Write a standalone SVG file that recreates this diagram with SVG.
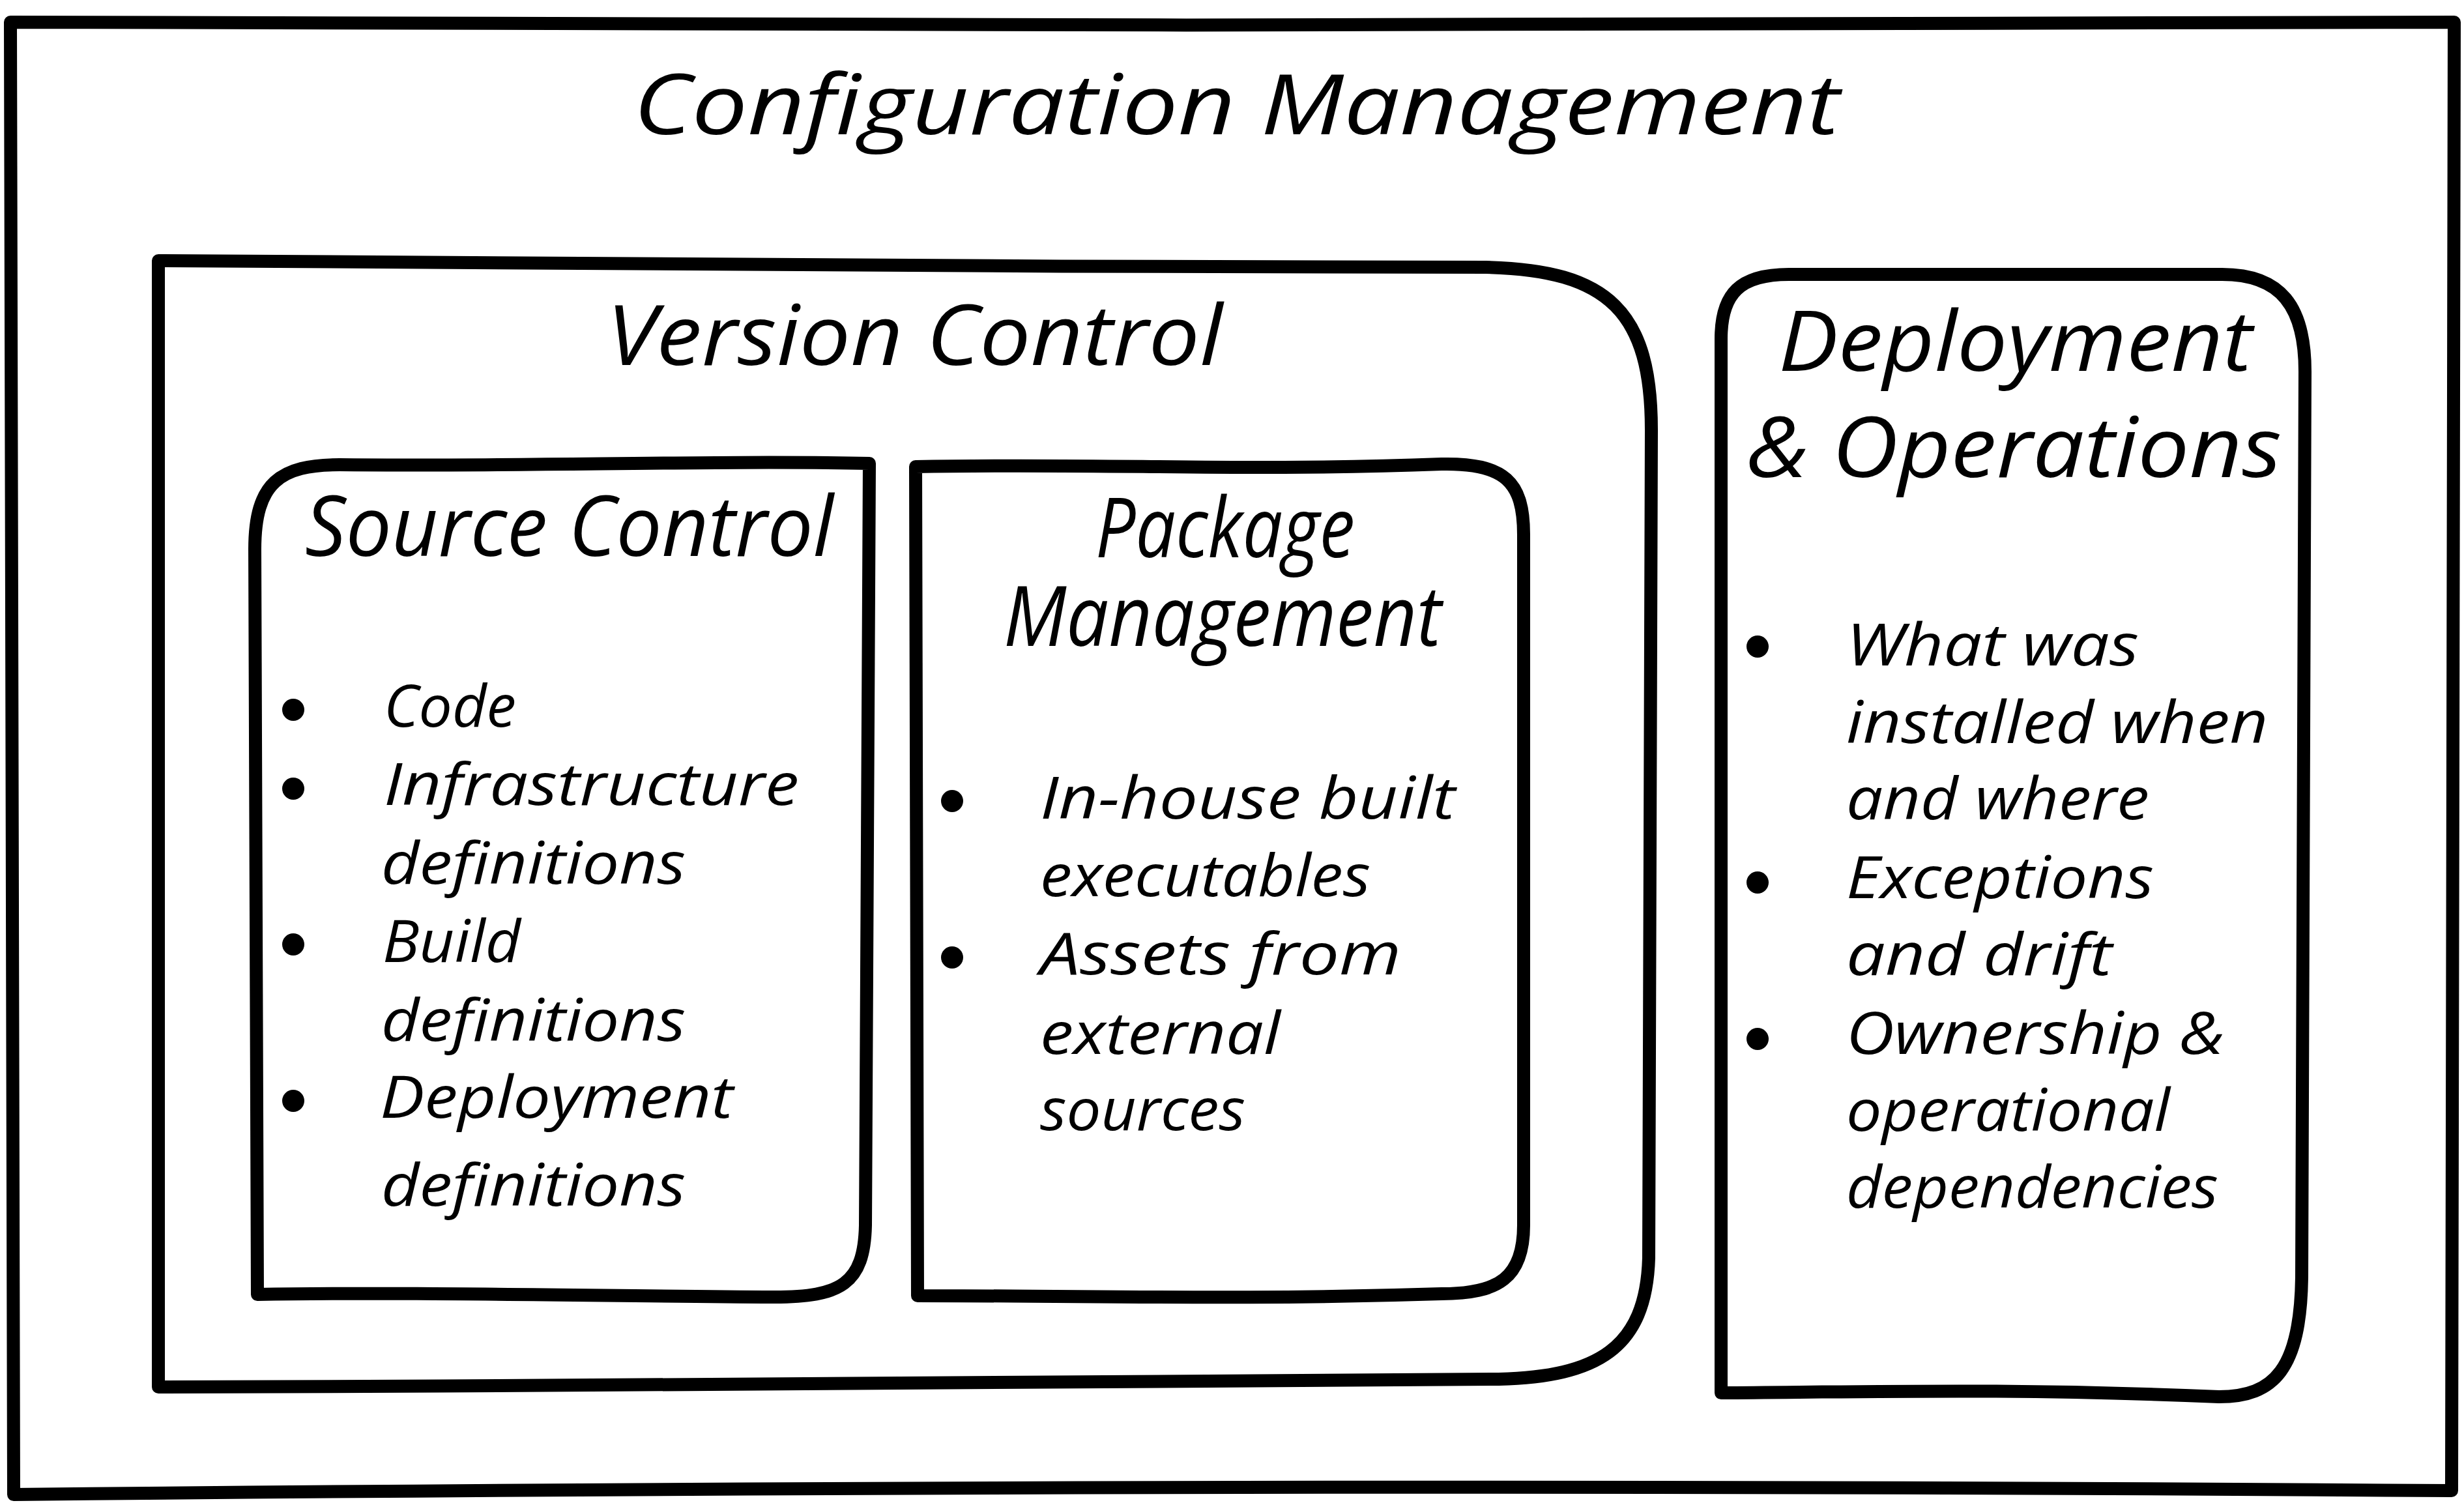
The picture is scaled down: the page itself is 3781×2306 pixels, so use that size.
<svg xmlns="http://www.w3.org/2000/svg" width="3781" height="2306" viewBox="0 0 3781 2306">
<style>
.box{fill:none;stroke:#000;stroke-width:20;stroke-linejoin:round;stroke-linecap:round}
.t{font-family:"Open Sans","Noto Sans","DejaVu Sans",sans-serif;font-style:italic;fill:#000}
.h{font-size:128px}
.i{font-size:90px}
.b{fill:#000}
</style>
<rect width="3781" height="2306" fill="#fff"/>
<g id="configuration-management">
<path class="box" d="M16 34 C1200 38 2600 42 3766 34 L3762 2287 Q1900 2274 21 2293 L16 34 Z"/>
<text class="t h" x="972" y="206" textLength="1851" lengthAdjust="spacingAndGlyphs">Configuration Management</text>
</g>
<g id="version-control">
<path class="box" d="M243 400 C900 408 1600 408 2280 410 C2470 414 2534 480 2534 660 L2530 1930 C2526 2070 2450 2112 2300 2116 C1500 2124 900 2126 243 2128 Z"/>
<text class="t h" x="931" y="560" textLength="945" lengthAdjust="spacingAndGlyphs">Version Control</text>
</g>
<g id="source-control">
<path class="box" d="M391 843 C391 740 430 713 521 713 C800 716 1100 706 1334 711 L1328 1880 C1326 1970 1290 1990 1188 1990 C900 1988 600 1982 395 1986 Z"/>
<text class="t h" x="468" y="853" textLength="811" lengthAdjust="spacingAndGlyphs">Source Control</text>
<circle class="b" cx="450" cy="1089" r="17"/>
<circle class="b" cx="450" cy="1210" r="17"/>
<circle class="b" cx="450" cy="1449" r="17"/>
<circle class="b" cx="450" cy="1689" r="17"/>
<text class="t i" x="589" y="1115" textLength="203" lengthAdjust="spacingAndGlyphs">Code</text>
<text class="t i" x="589" y="1235" textLength="637" lengthAdjust="spacingAndGlyphs">Infrastructure</text>
<text class="t i" x="585" y="1356" textLength="467" lengthAdjust="spacingAndGlyphs">definitions</text>
<text class="t i" x="587" y="1476" textLength="212" lengthAdjust="spacingAndGlyphs">Build</text>
<text class="t i" x="585" y="1597" textLength="467" lengthAdjust="spacingAndGlyphs">definitions</text>
<text class="t i" x="583" y="1715" textLength="542" lengthAdjust="spacingAndGlyphs">Deployment</text>
<text class="t i" x="585" y="1850" textLength="467" lengthAdjust="spacingAndGlyphs">definitions</text>
</g>
<g id="package-management">
<path class="box" d="M1405 716 C1700 710 1900 724 2212 712 C2310 710 2338 740 2338 820 L2338 1880 C2338 1960 2300 1985 2212 1985 C1900 1995 1700 1988 1408 1988 Z"/>
<text class="t h" x="1681" y="855" textLength="398" lengthAdjust="spacingAndGlyphs">Package</text>
<text class="t h" x="1540" y="991" textLength="672" lengthAdjust="spacingAndGlyphs">Management</text>
<circle class="b" cx="1461" cy="1229" r="17"/>
<circle class="b" cx="1461" cy="1469" r="17"/>
<text class="t i" x="1596" y="1256" textLength="637" lengthAdjust="spacingAndGlyphs">In-house built</text>
<text class="t i" x="1596" y="1375" textLength="507" lengthAdjust="spacingAndGlyphs">executables</text>
<text class="t i" x="1596" y="1495" textLength="554" lengthAdjust="spacingAndGlyphs">Assets from</text>
<text class="t i" x="1596" y="1617" textLength="369" lengthAdjust="spacingAndGlyphs">external</text>
<text class="t i" x="1596" y="1734" textLength="315" lengthAdjust="spacingAndGlyphs">sources</text>
</g>
<g id="deployment-operations">
<path class="box" d="M2641 2137 L2641 520 C2641 450 2670 421 2745 421 L3410 421 C3500 421 3537 470 3537 570 L3532 1960 C3530 2100 3490 2143 3405 2143 C3100 2130 2900 2135 2641 2137 Z"/>
<text class="t h" x="2729" y="569" textLength="727" lengthAdjust="spacingAndGlyphs">Deployment</text>
<text class="t h" x="2680" y="732" textLength="821" lengthAdjust="spacingAndGlyphs">&amp; Operations</text>
<circle class="b" cx="2697" cy="992" r="17"/>
<circle class="b" cx="2697" cy="1354" r="17"/>
<circle class="b" cx="2697" cy="1594" r="17"/>
<text class="t i" x="2833" y="1021" textLength="449" lengthAdjust="spacingAndGlyphs">What was</text>
<text class="t i" x="2833" y="1140" textLength="647" lengthAdjust="spacingAndGlyphs">installed when</text>
<text class="t i" x="2833" y="1257" textLength="465" lengthAdjust="spacingAndGlyphs">and where</text>
<text class="t i" x="2833" y="1378" textLength="472" lengthAdjust="spacingAndGlyphs">Exceptions</text>
<text class="t i" x="2833" y="1496" textLength="408" lengthAdjust="spacingAndGlyphs">and drift</text>
<text class="t i" x="2833" y="1617" textLength="580" lengthAdjust="spacingAndGlyphs">Ownership &amp;</text>
<text class="t i" x="2833" y="1735" textLength="497" lengthAdjust="spacingAndGlyphs">operational</text>
<text class="t i" x="2833" y="1853" textLength="571" lengthAdjust="spacingAndGlyphs">dependencies</text>
</g>
<g id="connectors"/>
</svg>
